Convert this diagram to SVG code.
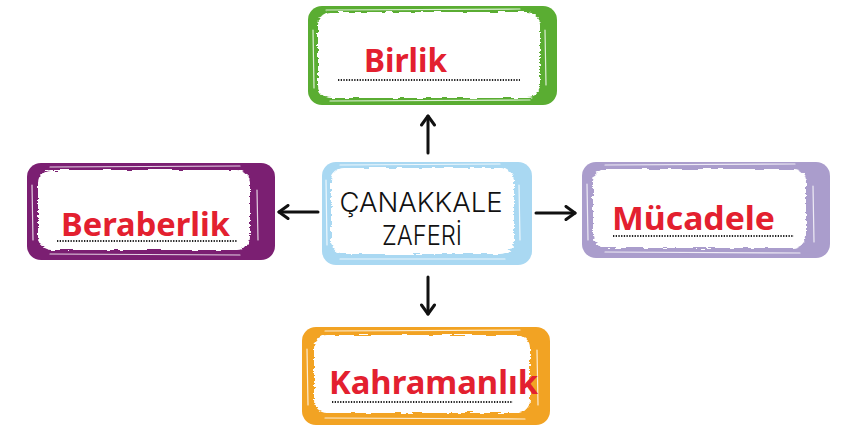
<svg xmlns="http://www.w3.org/2000/svg" width="868" height="446" viewBox="0 0 868 446">
<defs>
<filter id="rough" x="-5%" y="-10%" width="110%" height="120%">
<feTurbulence type="fractalNoise" baseFrequency="0.08 0.45" numOctaves="2" seed="3" result="n"/>
<feDisplacementMap in="SourceGraphic" in2="n" scale="5" xChannelSelector="R" yChannelSelector="G"/>
</filter>
<marker id="ah" viewBox="0 0 16 16" refX="13" refY="8" markerWidth="16" markerHeight="16" markerUnits="userSpaceOnUse" orient="auto">
<polyline points="4,1.5 13,8 4,14.5" fill="none" stroke="#111" stroke-width="3" stroke-linecap="round" stroke-linejoin="round"/>
</marker>
</defs>
<style>
.inner{fill:#fff;filter:url(#rough)}
.streak{fill:none;stroke:#fff;stroke-width:1.2;stroke-linecap:round;opacity:.8}
.lbl{font-family:"Noto Sans","Liberation Sans",sans-serif;font-weight:700;fill:#e3202f}
.dots{stroke:#222;stroke-width:2;stroke-dasharray:1.3 1.4}
.title{font-family:"Inter","Liberation Sans",sans-serif;font-weight:300;fill:#111;font-size:27px}
.conn{stroke:#111;stroke-width:3;fill:none;stroke-linecap:round;marker-end:url(#ah)}
</style>
<rect width="868" height="446" fill="#fff"/>

<g id="birlik">
<rect x="308" y="6" width="249" height="99" rx="14" fill="#5aad32"/>
<rect class="inner" x="318" y="12" width="222" height="86" rx="13"/>
<path class="streak" d="M326 10 L520 9 M330 101 L530 100 M313 30 L314 88 M545 30 L546 85"/>
<text class="lbl" x="364" y="72" font-size="33" textLength="83" lengthAdjust="spacingAndGlyphs">Birlik</text>
<line class="dots" x1="338" y1="80" x2="520" y2="80"/>
</g>

<g id="beraberlik">
<rect x="27" y="163" width="248" height="97" rx="14" fill="#7b1f72"/>
<rect class="inner" x="38" y="170" width="212" height="80" rx="13"/>
<path class="streak" d="M50 167 L240 166 M50 254 L240 255 M32 185 L33 240 M257 190 L258 240"/>
<text class="lbl" x="61" y="236" font-size="33" textLength="169" lengthAdjust="spacingAndGlyphs">Beraberlik</text>
<line class="dots" x1="57" y1="241" x2="237" y2="241"/>
</g>

<g id="canakkale">
<rect x="322" y="162" width="210" height="103" rx="14" fill="#a9d8f2"/>
<rect class="inner" x="331" y="168" width="183" height="86" rx="13"/>
<path class="streak" d="M340 165 L500 164 M340 259 L505 259 M326 180 L327 245 M519 185 L520 240"/>
<text class="title" text-anchor="middle"><tspan x="421" y="212" textLength="163" lengthAdjust="spacingAndGlyphs">ÇANAKKALE</tspan><tspan x="422" y="245" textLength="80" lengthAdjust="spacingAndGlyphs">ZAFERİ</tspan></text>
</g>

<g id="mucadele">
<rect x="582" y="162" width="248" height="96" rx="14" fill="#aa9dcc"/>
<rect class="inner" x="593" y="169" width="213" height="79" rx="13"/>
<path class="streak" d="M605 165 L795 164 M605 252 L800 253 M587 184 L588 240 M813 186 L814 242"/>
<text class="lbl" x="612" y="230" font-size="33" textLength="163" lengthAdjust="spacingAndGlyphs">Mücadele</text>
<line class="dots" x1="613" y1="236" x2="794" y2="236"/>
</g>

<g id="kahramanlik">
<rect x="302" y="327" width="248" height="98" rx="14" fill="#f2a323"/>
<rect class="inner" x="314" y="335" width="216" height="78" rx="13"/>
<path class="streak" d="M325 331 L520 330 M325 418 L525 419 M307 349 L308 405 M537 350 L538 405"/>
<text class="lbl" x="329" y="394" font-size="33" textLength="209" lengthAdjust="spacingAndGlyphs">Kahramanlık</text>
<line class="dots" x1="332" y1="402" x2="513" y2="402"/>
</g>

<g id="connectors">
<line class="conn" x1="428" y1="153" x2="428" y2="116"/>
<line class="conn" x1="428" y1="277" x2="428" y2="314"/>
<line class="conn" x1="318" y1="212" x2="279" y2="212"/>
<line class="conn" x1="536" y1="213" x2="575" y2="213"/>
</g>
</svg>
